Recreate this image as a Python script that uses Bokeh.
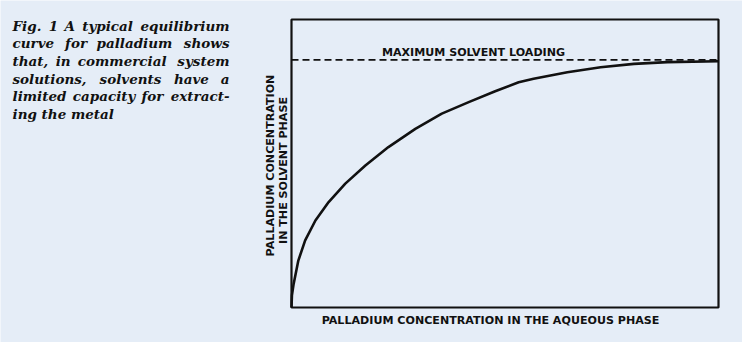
from bokeh.plotting import figure
from bokeh.models import Range1d, Label
from bokeh.embed import file_html
from bokeh.resources import INLINE

# Data (arbitrary units)
aqueous = [0.0, 0.01, 0.05, 0.16, 0.32, 0.56, 0.87, 1.26, 1.73, 2.27, 2.90, 3.52, 4.15, 4.77,
           5.32, 5.67, 6.46, 7.24, 8.02, 8.80, 10.0]
solvent = [0.0, 0.42, 0.82, 1.63, 2.33, 3.02, 3.66, 4.30, 4.93, 5.57, 6.20, 6.73, 7.13, 7.51,
           7.82, 7.94, 8.17, 8.34, 8.46, 8.52, 8.55]
max_loading = 8.60

caption = [
    "Fig. 1 A typical equilibrium",
    "curve for palladium shows",
    "that, in commercial system",
    "solutions, solvents have a",
    "limited capacity for extract-",
    "ing the metal",
]
x_title = "PALLADIUM CONCENTRATION IN THE AQUEOUS PHASE"
y_title = ["PALLADIUM CONCENTRATION", "IN THE SOLVENT PHASE"]
loading_label = "MAXIMUM SOLVENT LOADING"

BG = "#e5edf7"
INK = "#111111"

# canvas and plot-box placement (pixels)
W, H = 742, 342
FL, FR, FT, FB = 291, 718, 19, 307
X0, X1, Y0, Y1 = 0.0, 10.0, 0.0, 10.0
sx = (X1 - X0) / (FR - FL)
sy = (Y1 - Y0) / (FB - FT)

p = figure(width=W, height=H, output_backend="svg", toolbar_location=None,
           x_range=Range1d(X0 - FL * sx, X1 + (W - FR) * sx),
           y_range=Range1d(Y0 - (H - FB) * sy, Y1 + FT * sy),
           min_border=0, min_border_left=0, min_border_right=0,
           min_border_top=0, min_border_bottom=0)
p.xaxis.visible = False
p.yaxis.visible = False
p.grid.visible = False
p.background_fill_color = BG
p.border_fill_color = BG
p.outline_line_color = None

# plot box
p.quad(left=[X0], right=[X1], bottom=[Y0], top=[Y1], fill_color=None,
       line_color=INK, line_width=2.2)

p.line([X0, X1], [max_loading, max_loading], line_color=INK, line_width=1.8, line_dash="7 4")
p.line(aqueous, solvent, line_color=INK, line_width=2.6, line_join="round")


def lab(txt, cx, cy, **kw):
    opts = dict(text_color=INK, text_font="DejaVu Sans", text_font_style="bold",
                text_font_size="11.1px", text_align="center", text_baseline="middle")
    opts.update(kw)
    p.add_layout(Label(x=cx, y=H - cy, x_units="screen", y_units="screen",
                       text=txt, **opts))


lab(loading_label, 473, 52)
lab(x_title, 490, 320)
lab(y_title[0], 270, 165, angle=1.5708)
lab(y_title[1], 283, 170, angle=1.5708)

# justified caption block (rough DejaVu Serif Bold Italic advances, in em)
EM = 13.5
ADV = {"i": .36, "l": .36, "j": .36, "f": .46, "t": .46, "r": .52, "s": .59, "c": .62,
       "m": 1.07, "w": .95, ".": .40, ",": .40, "-": .40, "1": .72, "F": .75, "A": .80,
       "v": .68, "y": .68, "x": .68, "k": .68}


def word_width(w):
    return sum(ADV.get(ch, .72) for ch in w) * EM


CAP_L, CAP_R = 12, 229
cap_style = dict(text_font="DejaVu Serif", text_font_style="bold italic", text_font_size=f"{EM}px")
for i, line in enumerate(caption):
    cy = 25 + 17.7 * i
    words = line.split(" ")
    if i == len(caption) - 1 or len(words) == 1:
        lab(line, CAP_L, cy, text_align="left", **cap_style)
        continue
    widths = [word_width(w) for w in words]
    gap = (CAP_R - CAP_L - sum(widths)) / (len(words) - 1)
    pos = CAP_L
    for k, (w, wd) in enumerate(zip(words, widths)):
        if k == 0:
            lab(w, CAP_L, cy, text_align="left", **cap_style)
        elif k == len(words) - 1:
            lab(w, CAP_R, cy, text_align="right", **cap_style)
        else:
            lab(w, pos + wd / 2, cy, text_align="center", **cap_style)
        pos += wd + gap

open("out.html", "w").write(file_html(p, INLINE))
